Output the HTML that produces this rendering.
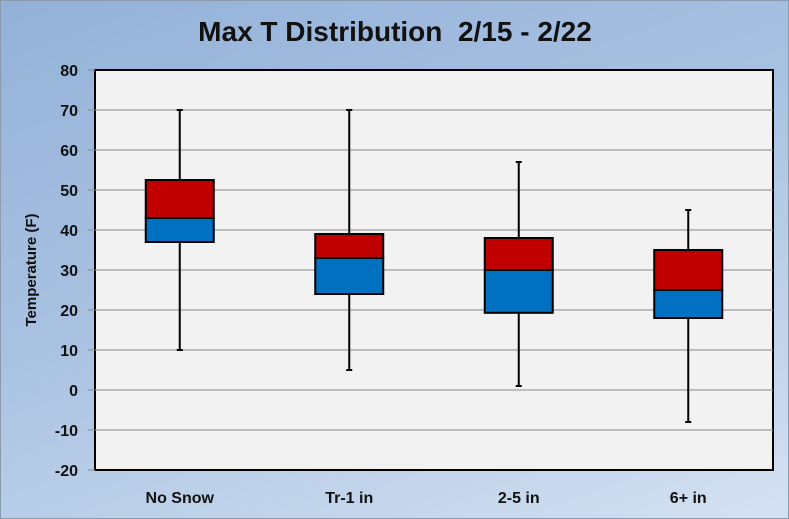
<!DOCTYPE html>
<html><head><meta charset="utf-8"><style>
body{margin:0;width:789px;height:519px;overflow:hidden;font-family:"Liberation Sans",sans-serif;}
#wrap{position:absolute;left:0;top:0;width:787px;height:517px;border:1px solid #8a9bb0;background:linear-gradient(160deg,#93b1d8 0%,#a9c2e2 45%,#d4e1f1 100%);}
</style></head><body>
<div id="wrap">
<svg width="789" height="519" style="position:absolute;left:-1px;top:-1px">
<text x="395" y="41" text-anchor="middle" font-size="28" font-weight="bold" fill="#111" style="white-space:pre">Max T Distribution  2/15 - 2/22</text>
<rect x="95" y="70" width="678" height="400" fill="#f2f2f2" stroke="#000" stroke-width="2"/>
<g id="grid"></g><g id="boxes"></g>
<text transform="translate(36,270) rotate(-90)" text-anchor="middle" font-size="15" font-weight="bold" fill="#111">Temperature (F)</text>
</svg></div>
<script>
const categories=["No Snow","Tr-1 in","2-5 in","6+ in"];
const maxV=[70,70,57,45];
const q3V=[52.5,39,38,35];
const medV=[43,33,30,25];
const q1V=[37,24,19.3,18];
const minV=[10,5,1,-8];
const yTicks=[-20,-10,0,10,20,30,40,50,60,70,80];
const NS="http://www.w3.org/2000/svg";
const y=v=>390-(v)*4;
const x=i=>95+678/4*(i+0.5);
function mk(t,a,p){const e=document.createElementNS(NS,t);for(const k in a)e.setAttribute(k,a[k]);p.appendChild(e);return e;}
const g=document.getElementById('grid');
yTicks.forEach(v=>{
 if(v>-20&&v<80){const l=mk('line',{x1:95,x2:773,y1:y(v),y2:y(v),stroke:'#888','stroke-width':1},g);
 
 }
 const t=mk('line',{x1:88,x2:95,y1:y(v),y2:y(v),stroke:'#888'},g);
 
 
 const tx=mk('text',{x:78,y:y(v)+6,'text-anchor':'end','font-size':16,'font-weight':'bold',fill:'#111'},g);
 tx.textContent=v;
 
 
});
const b=document.getElementById('boxes');
categories.forEach((c,i)=>{
 const cx=x(i),w=68;
 const wl=mk('line',{x1:cx,x2:cx,y1:y(maxV[i]),y2:y(minV[i]),stroke:'#000','stroke-width':2},b);
 
 
 [maxV[i],minV[i]].forEach(v=>{const cp=mk('line',{x1:cx-3,x2:cx+3,y1:y(v),y2:y(v),stroke:'#000','stroke-width':2},b);
 
 });
 const up=mk('rect',{x:cx-w/2,y:y(q3V[i]),width:w,height:y(medV[i])-y(q3V[i]),fill:'#c00000',stroke:'#000','stroke-width':2},b);
 
 
 const lo=mk('rect',{x:cx-w/2,y:y(medV[i]),width:w,height:y(q1V[i])-y(medV[i]),fill:'#0070c0',stroke:'#000','stroke-width':2},b);
 
 
 const t=mk('text',{x:cx,y:503,'text-anchor':'middle','font-size':16,'font-weight':'bold',fill:'#111'},b);
 t.textContent=c;
 
 
});
</script>
</body></html>
